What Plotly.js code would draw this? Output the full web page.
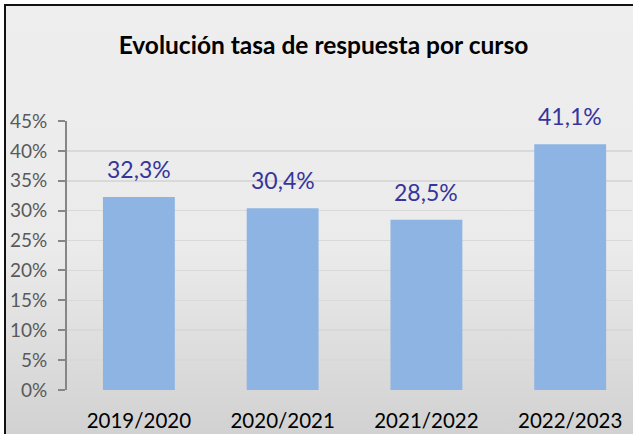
<!DOCTYPE html>
<html>
<head>
<meta charset="utf-8">
<script src="https://cdn.plot.ly/plotly-3.0.1.min.js"></script>
<style>
html,body{margin:0;padding:0;background:#ffffff;}
#wrap{position:relative;width:633px;height:434px;overflow:hidden;}
#bg{position:absolute;left:5px;top:5px;width:640px;height:440px;background:linear-gradient(#eeeeee 0%, #ebebeb 55%, #d0d0d0 100%);}
#chart{position:absolute;left:0;top:0;width:633px;height:434px;}
#frame{position:absolute;left:4px;top:4px;width:660px;height:460px;border-left:2px solid #111;border-top:2px solid #111;pointer-events:none;}
</style>
</head>
<body>
<div id="wrap">
<div id="bg"></div>
<div id="chart"></div>
<div id="frame"></div>
</div>
<script>
const categories = ["2019/2020", "2020/2021", "2021/2022", "2022/2023"];
const values = [32.3, 30.4, 28.5, 41.1];
const tickVals = [0, 5, 10, 15, 20, 25, 30, 35, 40, 45];
const tickText = ["0%", "5%", "10%", "15%", "20%", "25%", "30%", "35%", "40%", "45%"];
const labels = values.map(v => v.toFixed(1).replace(".", ",") + "%");

const FONT = "Lato, 'Open Sans', sans-serif";

const trace = {
  type: "bar",
  x: categories,
  y: values,
  marker: {color: "#8db4e3"},
  width: 0.5,
  hoverinfo: "none"
};

const annotations = categories.map((c, i) => ({
  x: c, y: values[i], xref: "x", yref: "y",
  text: labels[i], showarrow: false,
  yanchor: "bottom", xanchor: "center", yshift: 12,
  font: {family: FONT, size: 23, color: "#35359c"}
}));

const layout = {
  width: 633,
  height: 434,
  margin: {l: 67, r: 1, t: 121, b: 44},
  paper_bgcolor: "rgba(0,0,0,0)",
  plot_bgcolor: "rgba(0,0,0,0)",
  showlegend: false,
  annotations: annotations,
  title: {
    text: "<b>Evolución tasa de respuesta por curso</b>",
    font: {family: FONT, size: 24.5, color: "#000000"},
    x: 0.511, xanchor: "center", xref: "container",
    y: 0.896, yanchor: "middle", yref: "container"
  },
  xaxis: {
    type: "category",
    range: [-0.5, 3.43],
    showline: false,
    showgrid: false,
    zeroline: false,
    ticks: "",
    tickfont: {family: FONT, size: 20.5, color: "#000000"},
    ticklabelstandoff: 16
  },
  yaxis: {
    range: [0, 45],
    tickvals: tickVals,
    ticktext: tickText,
    showline: true,
    linecolor: "#868686",
    linewidth: 2,
    ticks: "outside",
    ticklen: 7,
    tickwidth: 2,
    tickcolor: "#868686",
    showgrid: true,
    gridcolor: "#d9d9d9",
    gridwidth: 1.5,
    zeroline: false,
    ticklabelstandoff: 7,
    tickfont: {family: FONT, size: 19, color: "#595959"}
  }
};

Plotly.newPlot("chart", [trace], layout, {displayModeBar: false, staticPlot: true});
</script>
</body>
</html>
